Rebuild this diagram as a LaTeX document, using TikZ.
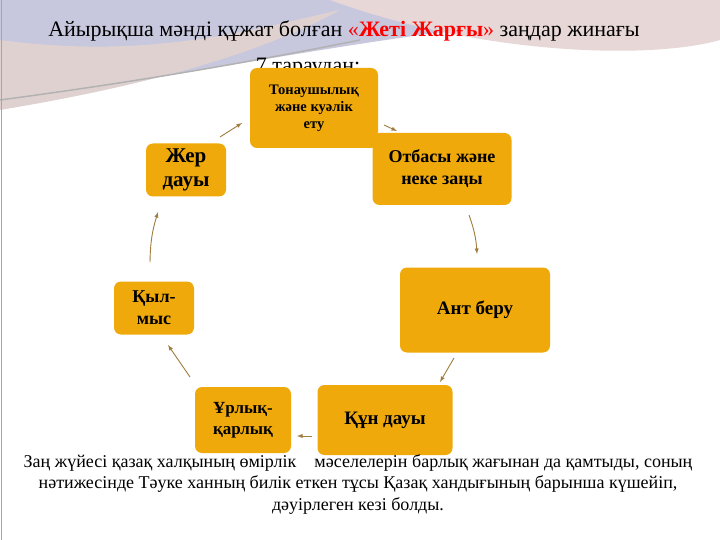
\documentclass[tikz,border=0pt]{standalone}
\usepackage{fontspec}
\setmainfont{Liberation Serif}
\begin{document}
\begin{tikzpicture}[x=1pt,y=-1pt,
  bx/.style={fill=boxc,rounded corners=7pt,align=center,inner sep=2pt},
  ar/.style={draw=arc,line width=0.9pt,-latex}]
\definecolor{boxc}{HTML}{EFA90A}
\definecolor{arc}{HTML}{A07C3E}
\useasboundingbox (0,0) rectangle (720,540);
\fill[white] (0,0) rectangle (720,540);
% background swooshes
\fill[blue!25!gray!35] (0,0) -- (720,0) -- (720,20) .. controls (500,5) and (300,60) .. (0,100) -- cycle;
\fill[red!20!gray!30] (0,40) .. controls (150,60) and (250,30) .. (340,10) .. controls (250,60) and (120,90) .. (0,110) -- cycle;
\fill[red!25!gray!25] (330,0) -- (720,0) -- (720,40) .. controls (650,60) and (480,55) .. (330,0) -- cycle;
\draw[gray!60,line width=1.5pt] (0,100) .. controls (150,80) and (260,60) .. (360,40);
\draw[gray!70,line width=1pt] (1,0) -- (1,540);
% title
\node[font=\rmfamily\fontsize{22}{24}\selectfont] (title) at (344,31) {Айырықша мәнді құжат болған \textcolor{red}{«\textbf{Жеті Жарғы}»} заңдар жинағы};
\node[font=\rmfamily\fontsize{22}{24}\selectfont] (sub) at (308,68) {7 тараудан:};
% boxes
\node[bx,minimum width=128pt,minimum height=80pt,font=\rmfamily\bfseries\fontsize{14.5}{17}\selectfont] (a) at (314,108) {Тонаушылық\\және куәлік\\ету};
\node[bx,minimum width=139pt,minimum height=72pt,font=\rmfamily\bfseries\fontsize{18}{22}\selectfont] (b) at (442,169) {Отбасы және\\неке заңы};
\node[bx,minimum width=150pt,minimum height=85pt,font=\rmfamily\bfseries\fontsize{19}{22}\selectfont] (c) at (475,310) {Ант беру};
\node[bx,minimum width=135pt,minimum height=70pt,font=\rmfamily\bfseries\fontsize{19}{22}\selectfont] (d) at (385,420) {Құн дауы};
\node[bx,minimum width=96pt,minimum height=66pt,font=\rmfamily\bfseries\fontsize{17}{21}\selectfont] (e) at (243,420) {Ұрлық-\\қарлық};
\node[bx,minimum width=80pt,minimum height=53pt,font=\rmfamily\bfseries\fontsize{18}{22}\selectfont] (f) at (154,308) {Қыл-\\мыс};
\node[bx,minimum width=80pt,minimum height=53pt,font=\rmfamily\bfseries\fontsize{21}{24}\selectfont] (g) at (186,170) {Жер\\дауы};
% connectors
\coordinate (g1) at (220,137); \coordinate (g2) at (242,123);
\coordinate (a1) at (384,125); \coordinate (a2) at (397,131);
\coordinate (b1) at (469,215); \coordinate (b2) at (477,254);
\coordinate (c1) at (454,358); \coordinate (c2) at (440,382);
\coordinate (d1) at (312,436); \coordinate (d2) at (297,436);
\coordinate (e1) at (190,377); \coordinate (e2) at (168,345);
\coordinate (f1) at (150,262); \coordinate (f2) at (158,212);
\draw[ar] (g1) -- (g2);
\draw[ar] (a1) -- (a2);
\draw[ar] (b1) to[bend left=8] (b2);
\draw[ar] (c1) -- (c2);
\draw[ar] (d1) -- (d2);
\draw[ar] (e1) -- (e2);
\draw[ar] (f1) to[bend left=8] (f2);
% bottom text
\node[font=\rmfamily\fontsize{18}{21.5}\selectfont,align=center] (txt) at (358,484) {Заң жүйесі қазақ халқының өмірлік\quad мәселелерін барлық жағынан да қамтыды, соның\\нәтижесінде Тәуке ханның билік еткен тұсы Қазақ хандығының барынша күшейіп,\\дәуірлеген кезі болды.};
\end{tikzpicture}
\end{document}
